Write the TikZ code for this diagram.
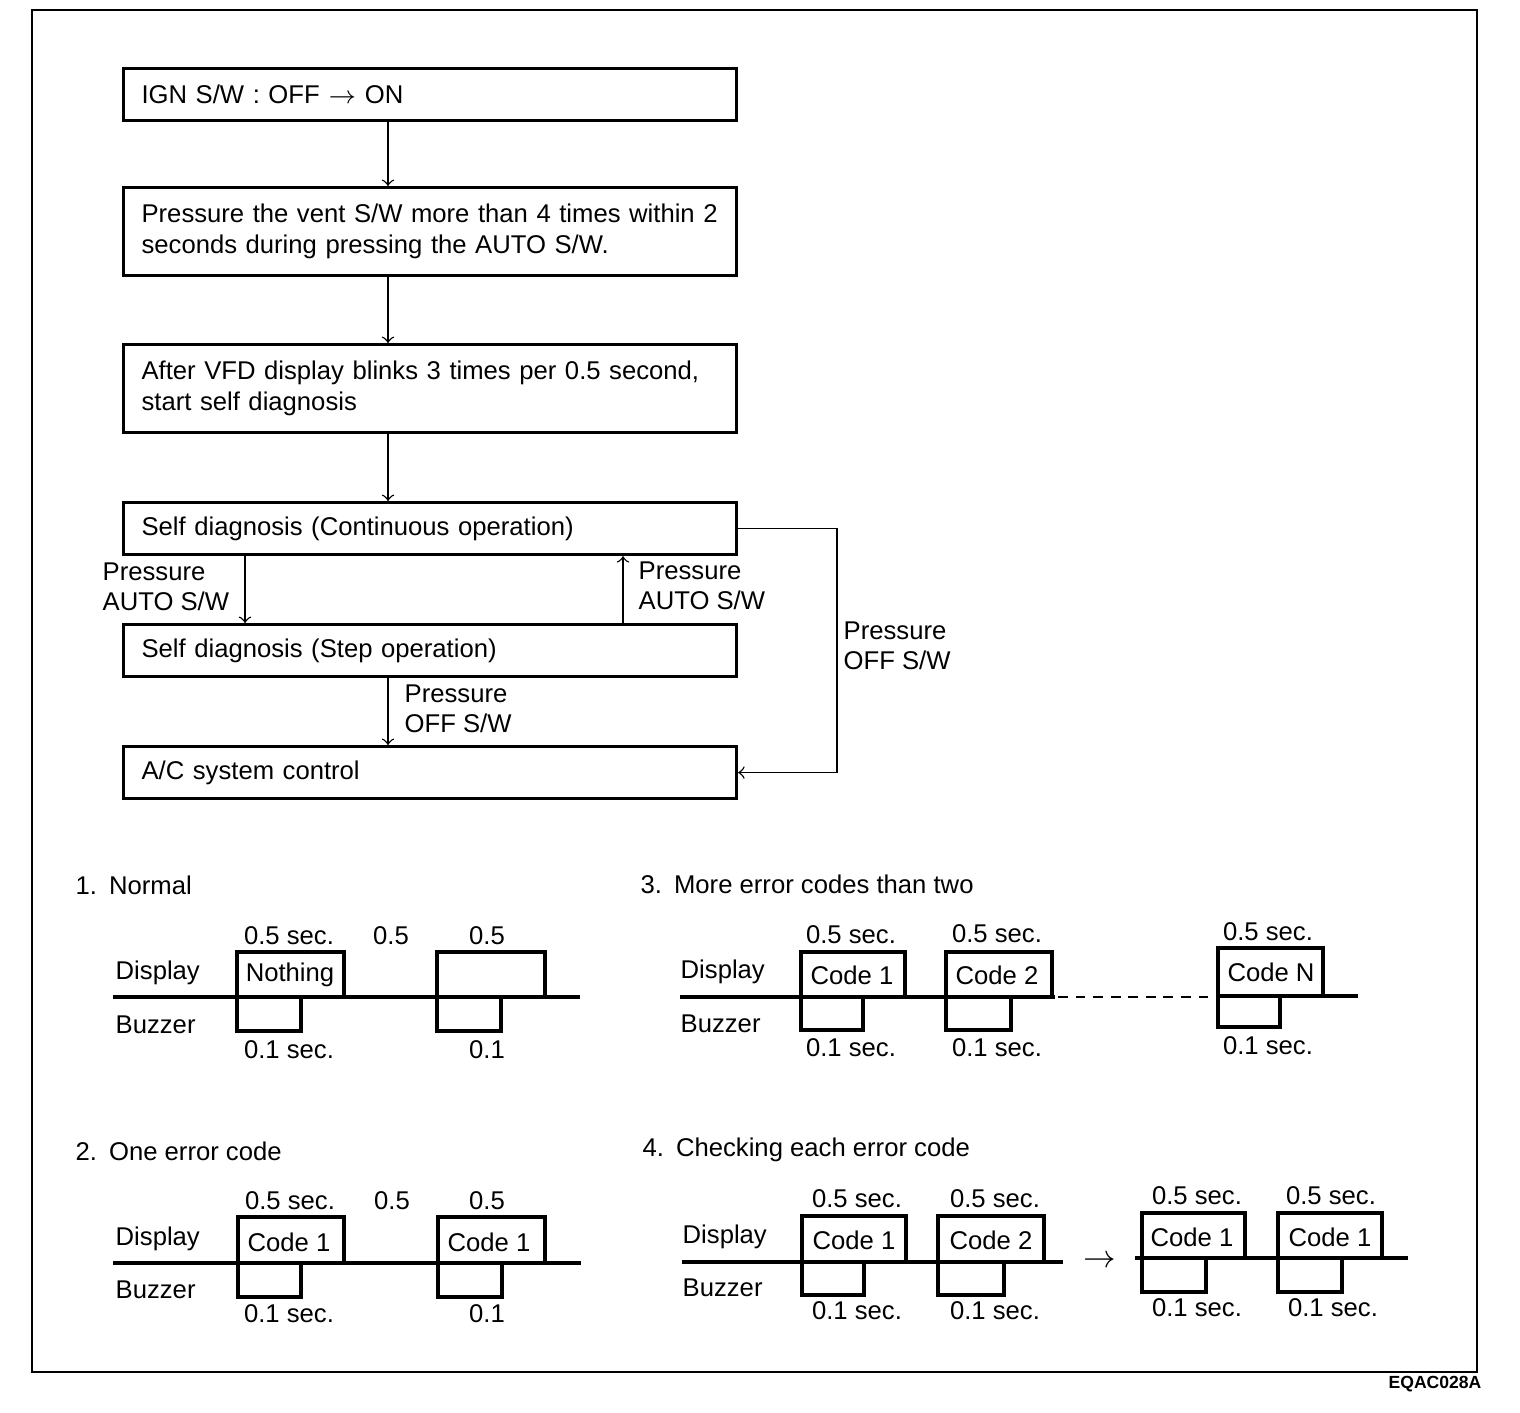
\documentclass[tikz,border=0pt]{standalone}
\usepackage{fontspec}
\setmainfont{Liberation Sans}
\usetikzlibrary{positioning}
\begin{document}
\begin{tikzpicture}
		[x=0.1mm,y=-0.1mm,
		flowbox/.style={draw,line width=0.9pt,anchor=north west,minimum width=6.13cm,text width=5.77cm,inner xsep=0.18cm,align=left,font=\fontsize{7.3}{8.8}\selectfont},
		link/.style={->,thin},
		lbl/.style={inner sep=0pt,anchor=west,align=left,font=\fontsize{7.3}{8.6}\selectfont},
		tl/.style={inner sep=0pt,font=\fontsize{7.3}{8.6}\selectfont},
		wave/.style={line width=1pt}]
		\useasboundingbox (0,0) rectangle (1520,1412);
		% draw the outer frame
		\draw [line width=0.8pt] (32,10) rectangle (1477,1372);
		\node [inner sep=0pt,font=\fontsize{5}{6}\selectfont\bfseries] (code) at (1435,1384) {EQAC028A};

		% draw the flow chart boxes
		\node [flowbox,minimum height=0.52cm] (ign) at (122,67) {IGN S/W : OFF $\rightarrow$ ON};
		\node [flowbox,minimum height=0.88cm] (vent) at (122,186) {Pressure the vent S/W more than 4 times within 2\\seconds during pressing the AUTO S/W.};
		\node [flowbox,minimum height=0.88cm] (vfd) at (122,343) {After VFD display blinks 3 times per 0.5 second,\\start self diagnosis};
		\node [flowbox,minimum height=0.52cm] (cont) at (122,501) {Self diagnosis (Continuous operation)};
		\node [flowbox,minimum height=0.52cm] (stepop) at (122,623) {Self diagnosis (Step operation)};
		\node [flowbox,minimum height=0.52cm] (ac) at (122,745) {A/C system control};

		% draw the connections
		\coordinate (mid) at (388,0);
		\coordinate (dn) at (245,0);
		\coordinate (up) at (623,0);
		\coordinate (turn) at (837,0);
		\draw [link] (mid |- ign.south) -- (mid |- vent.north);
		\draw [link] (mid |- vent.south) -- (mid |- vfd.north);
		\draw [link] (mid |- vfd.south) -- (mid |- cont.north);
		\draw [link] (dn |- cont.south) -- (dn |- stepop.north);
		\draw [link] (up |- stepop.north) -- (up |- cont.south);
		\draw [link] (mid |- stepop.south) -- (mid |- ac.north);
		\draw [link] (cont.east) -| (turn |- ac.east) -- (ac.east);
		\node [lbl] (autodn) at (102,587) {Pressure\\AUTO S/W};
		\node [lbl] (autoup) at (638,586) {Pressure\\AUTO S/W};
		\node [lbl] (offdn) at (404,709) {Pressure\\OFF S/W};
		\node [lbl] (offloop) at (843,646) {Pressure\\OFF S/W};

		% 1. normal
		\node [lbl] (tnormal) at (75,885) {1.\hspace{0.12cm}Normal};
		\node [lbl] (dnormal) at (115,973) {Display};
		\node [lbl] (bnormal) at (115,1025) {Buzzer};
		\draw [wave] (113,997) -- (580,997);
		\draw [wave] (237,997) |- (344,952) -- (344,997);
		\draw [wave] (237,997) |- (301,1031) -- (301,997);
		\draw [wave] (437,997) |- (545,952) -- (545,997);
		\draw [wave] (437,997) |- (501,1031) -- (501,997);
		\node [tl] (nothing) at (290,975) {Nothing};
		\node [tl] (na) at (289,936) {0.5 sec.};
		\node [tl] (nb) at (391,936) {0.5};
		\node [tl] (nc) at (487,936) {0.5};
		\node [tl] (nd) at (289,1050) {0.1 sec.};
		\node [tl] (ne) at (487,1050) {0.1};

		% 2. one error code
		\node [lbl] (tone) at (75,1151) {2.\hspace{0.12cm}One error code};
		\node [lbl] (done) at (115,1239) {Display};
		\node [lbl] (bone) at (115,1290) {Buzzer};
		\draw [wave] (113,1263) -- (581,1263);
		\draw [wave] (238,1263) |- (344,1217) -- (344,1263);
		\draw [wave] (238,1263) |- (301,1297) -- (301,1263);
		\draw [wave] (438,1263) |- (545,1217) -- (545,1263);
		\draw [wave] (438,1263) |- (502,1297) -- (502,1263);
		\node [tl] (oa) at (289,1242) {Code 1};
		\node [tl] (ob) at (489,1242) {Code 1};
		\node [tl] (oc) at (290,1201) {0.5 sec.};
		\node [tl] (od) at (392,1201) {0.5};
		\node [tl] (oe) at (487,1201) {0.5};
		\node [tl] (of) at (289,1314) {0.1 sec.};
		\node [tl] (og) at (487,1314) {0.1};

		% 3. more error codes
		\node [lbl] (tmore) at (640,884) {3.\hspace{0.12cm}More error codes than two};
		\node [lbl] (dmore) at (680,972) {Display};
		\node [lbl] (bmore) at (680,1024) {Buzzer};
		\draw [wave] (680,997) -- (1055,997);
		\draw [thick,dash pattern=on 2.8pt off 2.2pt] (1058,997) -- (1216,997);
		\draw [wave] (1218,996) -- (1358,996);
		\draw [wave] (801,997) |- (905,952) -- (905,997);
		\draw [wave] (801,997) |- (863,1030) -- (863,997);
		\draw [wave] (946,997) |- (1052,952) -- (1052,997);
		\draw [wave] (946,997) |- (1011,1030) -- (1011,997);
		\draw [wave] (1218,996) |- (1323,948) -- (1323,996);
		\draw [wave] (1218,996) |- (1280,1027) -- (1280,996);
		\node [tl] (ma) at (852,975) {Code 1};
		\node [tl] (mb) at (997,975) {Code 2};
		\node [tl] (mc) at (1271,972) {Code N};
		\node [tl] (md) at (851,935) {0.5 sec.};
		\node [tl] (me) at (997,934) {0.5 sec.};
		\node [tl] (mf) at (1268,932) {0.5 sec.};
		\node [tl] (mg) at (851,1048) {0.1 sec.};
		\node [tl] (mh) at (997,1048) {0.1 sec.};
		\node [tl] (mi) at (1268,1046) {0.1 sec.};

		% 4. checking each error code
		\node [lbl] (tcheck) at (642,1150) {4.\hspace{0.12cm}Checking each error code};
		\node [lbl] (dcheck) at (682,1237) {Display};
		\node [lbl] (bcheck) at (682,1288) {Buzzer};
		\draw [wave] (682,1262) -- (1063,1262);
		\draw [wave] (802,1262) |- (906,1216) -- (906,1262);
		\draw [wave] (802,1262) |- (864,1295) -- (864,1262);
		\draw [wave] (938,1262) |- (1044,1216) -- (1044,1262);
		\draw [wave] (938,1262) |- (1004,1295) -- (1004,1262);
		\node [tl,font=\fontsize{9}{10}\selectfont] (next) at (1100,1262) {$\rightarrow$};
		\draw [wave] (1135,1258) -- (1408,1258);
		\draw [wave] (1142,1258) |- (1245,1213) -- (1245,1258);
		\draw [wave] (1142,1258) |- (1206,1292) -- (1206,1258);
		\draw [wave] (1278,1258) |- (1382,1213) -- (1382,1258);
		\draw [wave] (1278,1258) |- (1342,1292) -- (1342,1258);
		\node [tl] (ca) at (854,1240) {Code 1};
		\node [tl] (cb) at (991,1240) {Code 2};
		\node [tl] (cc) at (1192,1237) {Code 1};
		\node [tl] (cd) at (1330,1237) {Code 1};
		\node [tl] (ce) at (857,1199) {0.5 sec.};
		\node [tl] (cf) at (995,1199) {0.5 sec.};
		\node [tl] (cg) at (1197,1196) {0.5 sec.};
		\node [tl] (ch) at (1331,1196) {0.5 sec.};
		\node [tl] (ci) at (857,1311) {0.1 sec.};
		\node [tl] (cj) at (995,1311) {0.1 sec.};
		\node [tl] (ck) at (1197,1308) {0.1 sec.};
		\node [tl] (cl) at (1333,1308) {0.1 sec.};
	\end{tikzpicture}
\end{document}
